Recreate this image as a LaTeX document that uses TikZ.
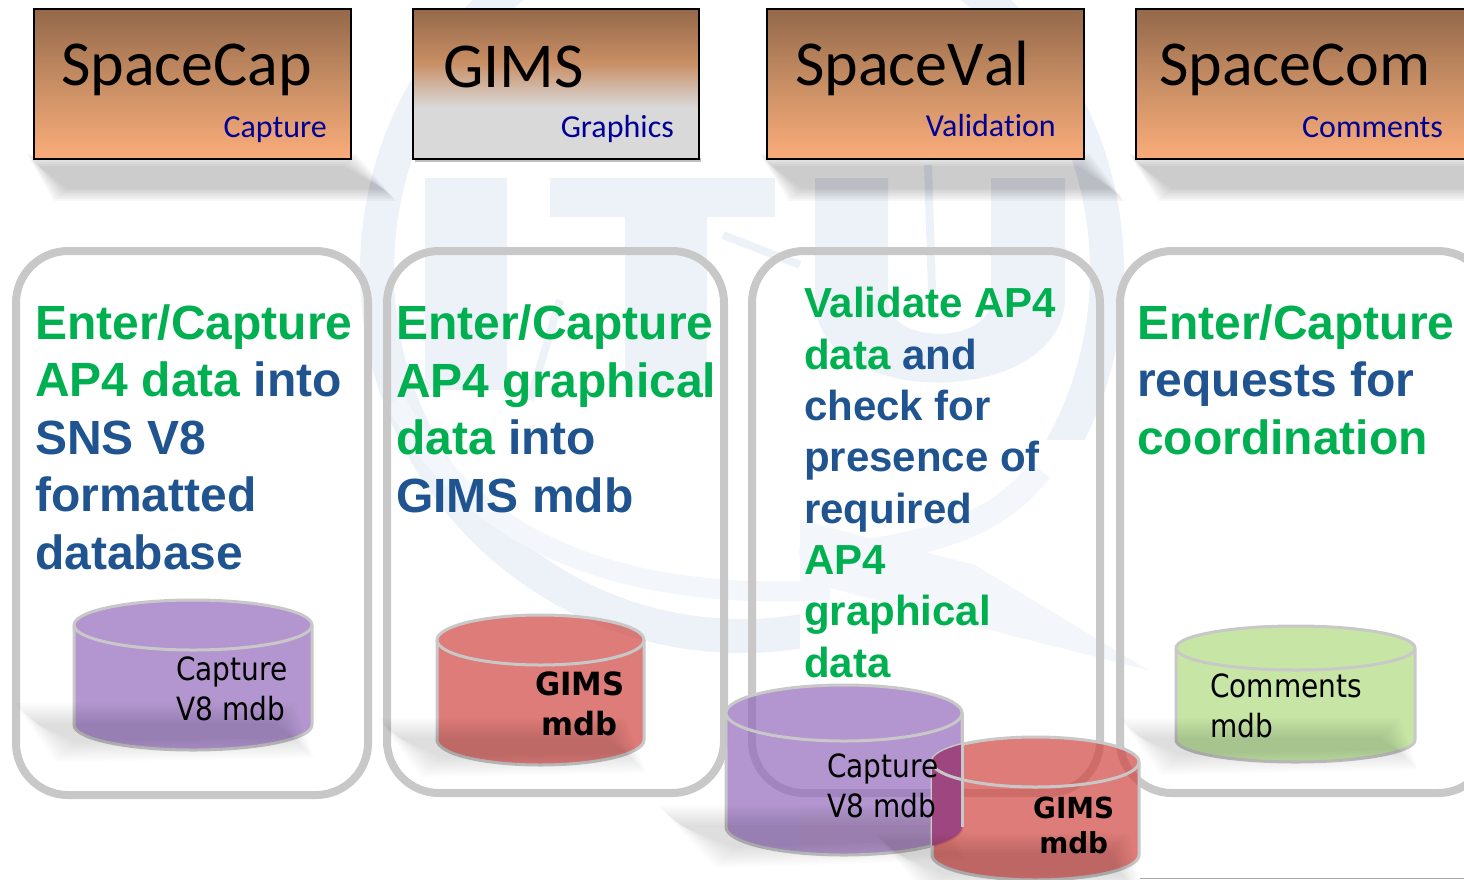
\documentclass[tikz,border=0pt]{standalone}
\usepackage{fontspec}
\setmainfont{Liberation Sans}
\newfontfamily\capfont[Ligatures=NoCommon]{Carlito}
\newfontfamily\titlefont[Kerning=Off]{Carlito}
\newfontfamily\cylfont[FakeStretch=0.875]{DejaVu Sans}
\newfontfamily\cylbold[FakeStretch=0.96]{DejaVu Sans Bold}
\definecolor{wm}{RGB}{237,242,249}
\definecolor{wmsoft}{RGB}{243,246,251}
\definecolor{ringgrey}{RGB}{200,200,200}
\definecolor{gr}{RGB}{0,176,80}
\definecolor{bl}{RGB}{31,84,144}
\definecolor{navy}{RGB}{0,0,150}
\definecolor{topbrown}{RGB}{147,104,74}
\definecolor{midbrown}{RGB}{200,142,100}
\definecolor{lowpeach}{RGB}{250,172,122}
\definecolor{boxgrey}{RGB}{217,217,217}
\definecolor{cpurple}{RGB}{147,105,188}
\definecolor{cred}{RGB}{208,69,65}
\definecolor{cgreen}{RGB}{176,219,126}
\definecolor{overlapc}{RGB}{158,70,128}
\pgfdeclareverticalshading{peachshade}{100bp}{color(0bp)=(lowpeach); color(25bp)=(lowpeach); color(50bp)=(midbrown); color(75bp)=(topbrown); color(100bp)=(topbrown)}
\pgfdeclareverticalshading{gimsshade}{100bp}{color(0bp)=(boxgrey); color(25bp)=(boxgrey); color(42bp)=(boxgrey); color(57bp)=(midbrown); color(75bp)=(topbrown); color(100bp)=(topbrown)}
\tikzset{
  topbox/.style={draw=black,line width=2pt,minimum height=150pt,inner sep=0pt,anchor=north west},
  titletext/.style={inner sep=0pt,anchor=base west,font=\titlefont\fontsize{64}{64}\selectfont},
  subtext/.style={inner sep=0pt,anchor=base east,text=navy,font=\capfont\fontsize{32}{32}\selectfont},
  panel/.style={draw=ringgrey,line width=8pt,rounded corners=52pt},
  bigtext/.style={inner sep=0pt,anchor=base west,align=left,font=\bfseries\fontsize{48}{57.5}\selectfont},
  midtext/.style={inner sep=0pt,anchor=base west,align=left,font=\bfseries\fontsize{42}{51.3}\selectfont},
  cyltext/.style={inner sep=0pt,anchor=base west,align=left,font=\cylfont\fontsize{32}{40}\selectfont},
  wmband/.style={draw=wm,line cap=butt},
  softband/.style={draw=wmsoft,line cap=butt},
}
% soft shadow: corners top-left, top-right, bottom-right, bottom-left
\newcommand{\softshadow}[8]{%
  \foreach \d in {-6,-4,-2,0,2,4,6}{
    \fill[black,opacity=0.032] ({#1+\d},{#2+\d}) -- ({#3-\d},{#4+\d}) -- ({#5-\d},{#6-\d}) -- ({#7+\d},{#8-\d}) -- cycle;
  }}
\newcommand{\lightshadow}[8]{%
  \foreach \d in {-10,-8,-6,-4,-2,0,2,4,6,8,10}{
    \fill[black,opacity=0.01] ({#1+\d},{#2+\d}) -- ({#3-\d},{#4+\d}) -- ({#5-\d},{#6-\d}) -- ({#7+\d},{#8-\d}) -- cycle;
  }}
% cylinder: left x, right x, top centre y, y radius, side end y, colour
\newcommand{\cylpath}[5]{%
    (#1,#3) arc[start angle=180,end angle=0,x radius={(#2-#1)/2*1pt},y radius=#4 pt]
    -- (#2,#5) arc[start angle=0,end angle=-180,x radius={(#2-#1)/2*1pt},y radius=#4 pt] -- cycle}
\newcommand{\cyl}[6]{%
  \filldraw[fill=#6,fill opacity=0.7,draw=ringgrey,line width=3pt] \cylpath{#1}{#2}{#3}{#4}{#5};
  \draw[draw=ringgrey,line width=3pt]
    (#1,#3) arc[start angle=180,end angle=360,x radius={(#2-#1)/2*1pt},y radius=#4 pt];
}
\begin{document}
\begin{tikzpicture}[x=1pt,y=-1pt]
\useasboundingbox (0,0) rectangle (1464,879);
\clip (0,0) rectangle (1464,879);
% watermark
\draw[wmband,line width=34pt] (742,271) circle[radius=365pt];
\fill[white] (800,440) rectangle (1464,879);
\fill[wm] (425,178) rectangle (507,390);
\fill[wm] (550,178) rectangle (775,217);
\fill[wm] (625,178) rectangle (707,390);
\fill[wm] (815,178) -- (888,178) -- (888,300) .. controls (888,345) and (990,345) .. (991,300) -- (991,178) -- (1065,178) -- (1065,300) .. controls (1060,410) and (815,410) .. (815,300) -- cycle;
\draw[softband,line width=20pt] (395,400) .. controls (480,560) and (650,600) .. (830,590);
\draw[softband,line width=25pt] (1040,470) .. controls (1000,520) and (950,545) .. (800,560);
\fill[wmsoft] (800,520) -- (975,565) -- (1148,670) -- (990,630) -- (800,580) -- cycle;
\draw[wmband,line width=8pt] (723,235) -- (800,265);
\draw[wmband,line width=8pt] (928,165) -- (932,290);
\draw[wmband,line width=8pt] (560,300) -- (530,400);
% top box shadows
\softshadow{33}{160}{350}{160}{390}{195}{60}{195}
\softshadow{766}{160}{1084}{160}{1118}{195}{795}{195}
\softshadow{1135}{160}{1475}{160}{1500}{195}{1165}{195}
% panels
\draw[panel] (16,251) rectangle (368,795);
\draw[panel] (387,251) rectangle (724,793);
\draw[panel] (752,251) rectangle (1100,793);
\draw[panel] (1120,251) rectangle (1490,793);
% top boxes
\node[topbox,shading=peachshade,minimum width=317pt] (capbox) at (33,7.5) {};
\fill[black,opacity=0.25] (415,158) rectangle (701,162);
\node[topbox,shading=gimsshade,minimum width=286pt] (gimsbox) at (412,7.5) {};
\node[topbox,shading=peachshade,minimum width=317pt] (valbox) at (766,7.5) {};
\node[topbox,shading=peachshade,minimum width=334pt] (combox) at (1135,7.5) {};
\node[titletext] (t1) at (61,85) {SpaceCap};
\node[titletext] (t2) at (443,87) {GIMS};
\node[titletext] (t3) at (795,85) {SpaceVal};
\node[titletext] (t4) at (1159,85) {SpaceCom};
\node[subtext] (s1) at (327,137) {Capture};
\node[subtext] (s2) at (674,137) {Graphics};
\node[subtext] (s3) at (1056,136) {Validation};
\node[subtext] (s4) at (1443,137) {Comments};
% panel texts
\node[bigtext] (p1) at (35,569) {\textcolor{gr}{Enter/Capture}\\\textcolor{gr}{AP4 data} \textcolor{bl}{into}\\\textcolor{bl}{SNS V8}\\\textcolor{bl}{formatted}\\\textcolor{bl}{database}};
\node[bigtext] (p2) at (396,512) {\textcolor{gr}{Enter/Capture}\\\textcolor{gr}{AP4 graphical}\\\textcolor{gr}{data} \textcolor{bl}{into}\\\textcolor{bl}{GIMS mdb}};
\node[midtext] (p3) at (804,677) {\textcolor{gr}{Validate AP4}\\\textcolor{gr}{data} \textcolor{bl}{and}\\\textcolor{bl}{check for}\\\textcolor{bl}{presence of}\\\textcolor{bl}{required}\\\textcolor{gr}{AP4}\\\textcolor{gr}{graphical}\\\textcolor{gr}{data}};
\node[bigtext] (p4) at (1137,454) {\textcolor{gr}{Enter/Capture}\\\textcolor{bl}{requests for}\\\textcolor{gr}{coordination}};
% cylinders
\cyl{74}{312}{625}{25}{725}{cpurple}
\lightshadow{25}{713}{285}{713}{304}{748}{65}{752}
\node[cyltext] (c1) at (176,720) {Capture\\V8 mdb};
\cyl{437}{644}{640}{25}{740}{cred}
\lightshadow{388}{728}{616}{728}{636}{763}{430}{767}
\node[cyltext,font=\cylbold\fontsize{32}{40}\selectfont,align=center] (c2) at (535,735) {GIMS\\mdb};
\cyl{726}{962}{713}{28}{827}{cpurple}
\lightshadow{668}{815}{940}{815}{955}{850}{725}{858}
\cyl{932}{1139}{762}{25}{855}{cred}
\begin{scope}
  \clip \cylpath{726}{962}{713}{28}{827};
  \fill[overlapc] \cylpath{932}{1139}{762}{25}{855};
  \draw[ringgrey,line width=3pt] (932,762) arc[start angle=180,end angle=360,x radius=103.5pt,y radius=25pt];
\end{scope}
\draw[ringgrey,line width=3pt] (962,713) -- (962,827);
\lightshadow{885}{843}{1120}{843}{1132}{885}{935}{885}
\node[cyltext] (c3) at (827,817) {Capture\\V8 mdb};
\node[cyltext,font=\cylbold\fontsize{29}{35}\selectfont,align=center] (c4) at (1033,853) {GIMS\\mdb};
\cyl{1176}{1415}{648}{22}{740}{cgreen}
\lightshadow{1130}{728}{1390}{728}{1408}{760}{1170}{765}
\node[cyltext] (c5) at (1210,737) {Comments\\mdb};
\draw[gray!70,line width=1pt] (1140,878) -- (1464,878);
\end{tikzpicture}
\end{document}
